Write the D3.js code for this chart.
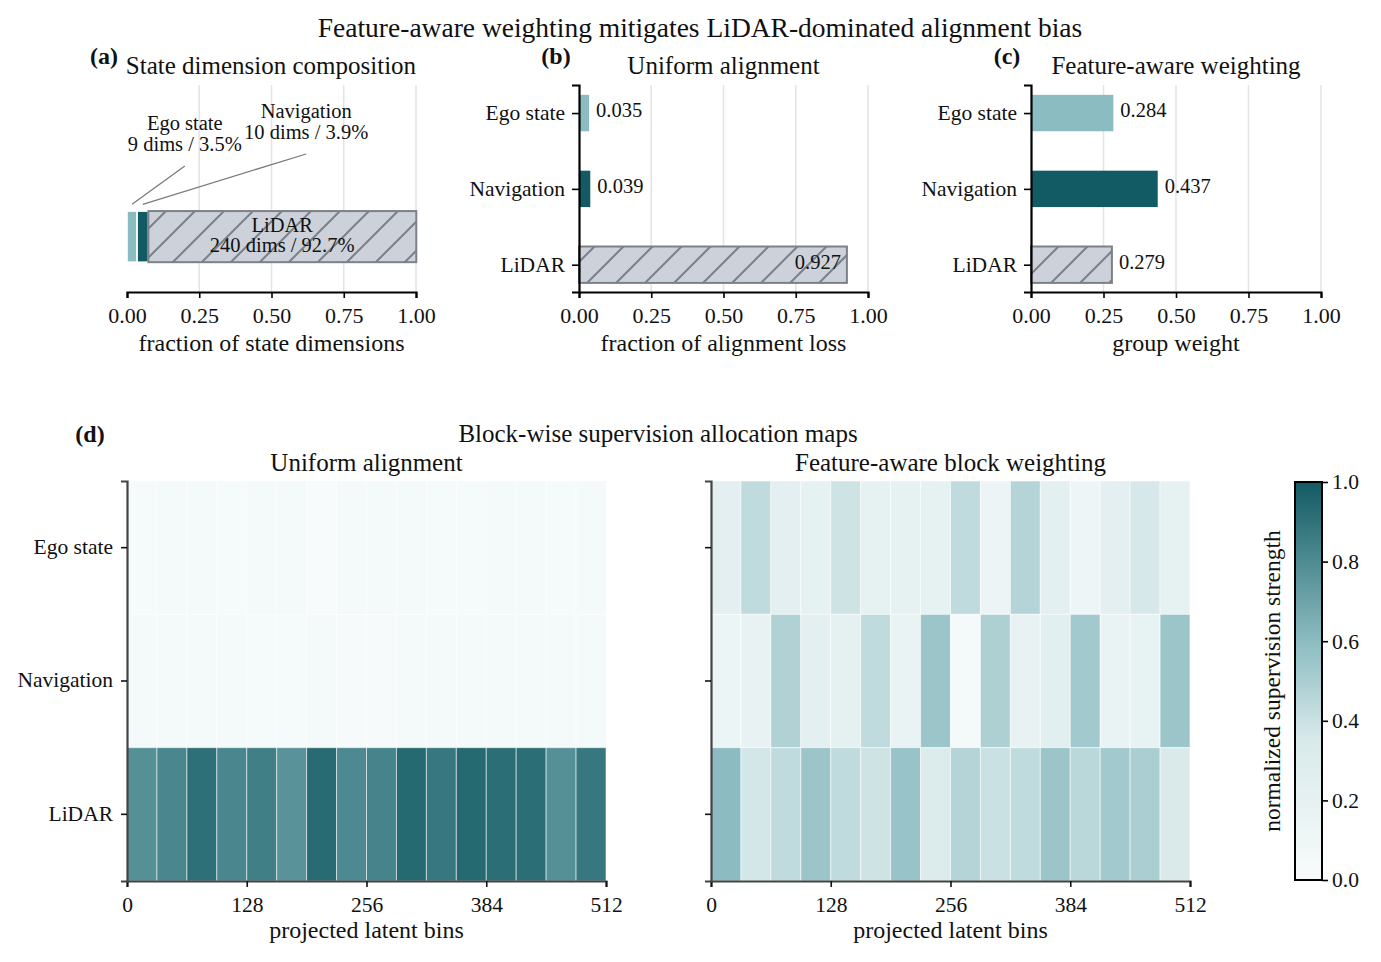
<!DOCTYPE html>
<html>
<head>
<meta charset="utf-8">
<script src="https://cdn.jsdelivr.net/npm/d3@7"></script>
<style>
  body { margin: 0; background: #fff; }
  text { font-family: "Liberation Serif", "Times New Roman", serif; fill: #111; }
</style>
</head>
<body>
<div id="chart"></div>
<script>
const width = 1381,
  height = 962;

// DATA
const groups = ["Ego state", "Navigation", "LiDAR"];
const groupDims = [9, 10, 240];
const dimShare = [0.035, 0.039, 0.927];
const uniformLoss = [0.035, 0.039, 0.927];
const featureWeight = [0.284, 0.437, 0.279];
const barTicks = [0, 0.25, 0.5, 0.75, 1.0];
const binTicks = [0, 128, 256, 384, 512];
const cbarTicks = [0, 0.2, 0.4, 0.6, 0.8, 1.0];
const nBlocks = 16;

// block-wise maps, rows = groups, 16 blocks of 32 bins
const uniformMap = [
  [0.03, 0.04, 0.04, 0.03, 0.04, 0.05, 0.01, 0.05, 0.04, 0.04, 0.03, 0.03, 0.04, 0.04, 0.03, 0.04],
  [0.05, 0.05, 0.04, 0.05, 0.03, 0.03, 0.05, 0.02, 0.02, 0.04, 0.04, 0.04, 0.04, 0.04, 0.04, 0.04],
  [0.78, 0.82, 0.91, 0.82, 0.85, 0.77, 0.93, 0.81, 0.83, 0.94, 0.88, 0.94, 0.92, 0.92, 0.78, 0.88]
];
const featureMap = [
  [0.24, 0.43, 0.24, 0.2, 0.39, 0.2, 0.2, 0.2, 0.43, 0.14, 0.47, 0.24, 0.12, 0.24, 0.36, 0.2],
  [0.13, 0.18, 0.48, 0.24, 0.22, 0.43, 0.17, 0.55, 0.05, 0.49, 0.18, 0.25, 0.53, 0.17, 0.19, 0.55],
  [0.6, 0.37, 0.43, 0.55, 0.43, 0.39, 0.56, 0.32, 0.47, 0.4, 0.43, 0.55, 0.45, 0.53, 0.5, 0.34]
];

const groupFill = ["#8bbcc1", "#125a64", "url(#hatch)"];
const groupStroke = ["#ffffff", "#ffffff", "#7c8189"];

const color = d3.scaleLinear()
  .domain([0, 0.35, 0.6, 1])
  .range(["#f8fbfb", "#d9eaeb", "#8cbcc1", "#135a63"])
  .clamp(true);

const svg = d3.select("#chart")
  .append("svg")
  .attr("width", width)
  .attr("height", height);

const defs = svg.append("defs");
const hatch = defs.append("pattern")
  .attr("id", "hatch")
  .attr("patternUnits", "userSpaceOnUse")
  .attr("width", 29)
  .attr("height", 29);
hatch.append("rect").attr("width", 29).attr("height", 29).attr("fill", "#cdd2da");
hatch.append("path")
  .attr("d", "M-2,31 L31,-2 M-10,10 L10,-10 M19,39 L39,19")
  .attr("stroke", "#7c8189")
  .attr("stroke-width", 2);

// TITLE
svg.append("text")
  .attr("x", 700)
  .attr("y", 37)
  .attr("text-anchor", "middle")
  .attr("font-size", 27.5)
  .text("Feature-aware weighting mitigates LiDAR-dominated alignment bias");

function panelLabel(x, y, t) {
  svg.append("text")
    .attr("x", x)
    .attr("y", y)
    .attr("text-anchor", "middle")
    .attr("font-size", 24)
    .attr("font-weight", "bold")
    .attr("fill", "#333")
    .text(t);
}

function xAxisBars(g, xScale, y, label) {
  const ax = g.append("g")
    .attr("transform", `translate(0,${y})`)
    .call(d3.axisBottom(xScale).tickValues(barTicks).tickFormat(d3.format(".2f")).tickSizeOuter(0).tickSize(6));
  ax.select(".domain").attr("stroke", "#000").attr("stroke-width", 2.2);
  ax.selectAll(".tick line").attr("stroke", "#000").attr("stroke-width", 1.6);
  ax.selectAll(".tick text")
    .attr("font-size", 22)
    .attr("font-family", "Liberation Serif")
    .attr("fill", "#111")
    .attr("dy", "1.0em");
  g.append("text")
    .attr("x", (xScale.range()[0] + xScale.range()[1]) / 2)
    .attr("y", y + 59)
    .attr("text-anchor", "middle")
    .attr("font-size", 24)
    .text(label);
}

function grid(g, xScale, top, bottom) {
  g.selectAll(".grid")
    .data(barTicks.slice(1))
    .join("line")
    .attr("class", "grid")
    .attr("x1", d => xScale(d))
    .attr("x2", d => xScale(d))
    .attr("y1", top)
    .attr("y2", bottom)
    .attr("stroke", "#e3e3e8")
    .attr("stroke-width", 1.5);
}

// PANEL A
(function() {
  const g = svg.append("g");
  const xScale = d3.scaleLinear().domain([0, 1]).range([127, 416]);
  const yScale = d3.scaleLinear().domain([-1.78, 0.65]).range([85, 292]);
  grid(g, xScale, 85, 292);

  let start = 0;
  const segs = dimShare.map((v, i) => {
    const s = { i, x0: start, x1: start + v, v };
    start += v;
    return s;
  });
  g.selectAll(".seg")
    .data(segs)
    .join("rect")
    .attr("class", "seg")
    .attr("x", d => xScale(d.x0))
    .attr("width", d => xScale(d.x1) - xScale(d.x0))
    .attr("y", yScale(-0.3))
    .attr("height", yScale(0.3) - yScale(-0.3))
    .attr("fill", d => groupFill[d.i])
    .attr("stroke", d => groupStroke[d.i])
    .attr("stroke-width", d => d.i === 2 ? 2 : 1.6);

  // LiDAR inside label
  const lid = segs[2];
  const lx = xScale((lid.x0 + 1) / 2);
  g.append("text").attr("x", lx).attr("y", yScale(-0.06)).attr("text-anchor", "middle")
    .attr("font-size", 20.5).attr("fill", "#333").text(groups[2]);
  g.append("text").attr("x", lx).attr("y", yScale(0.18)).attr("text-anchor", "middle")
    .attr("font-size", 20.5).attr("fill", "#333")
    .text(`${groupDims[2]} dims / ${(dimShare[2] * 100).toFixed(1)}%`);

  // callouts for small segments
  const callouts = [
    { i: 0, tx: 0.2, ty: -1.25, px: (segs[0].x0 + segs[0].x1) / 2, lineY: -0.83 },
    { i: 1, tx: 0.62, ty: -1.39, px: (segs[1].x0 + segs[1].x1) / 2, lineY: -0.97 }
  ];
  callouts.forEach(c => {
    g.append("line")
      .attr("x1", xScale(c.tx)).attr("y1", yScale(c.lineY))
      .attr("x2", xScale(c.px)).attr("y2", yScale(-0.38))
      .attr("stroke", "#777b82").attr("stroke-width", 1.3);
    g.append("text").attr("x", xScale(c.tx)).attr("y", yScale(c.ty)).attr("text-anchor", "middle")
      .attr("font-size", 20.5).attr("fill", "#333").text(groups[c.i]);
    g.append("text").attr("x", xScale(c.tx)).attr("y", yScale(c.ty + 0.245)).attr("text-anchor", "middle")
      .attr("font-size", 20.5).attr("fill", "#333")
      .text(`${groupDims[c.i]} dims / ${(dimShare[c.i] * 100).toFixed(1)}%`);
  });

  xAxisBars(g, xScale, 292, "fraction of state dimensions");
  svg.append("text").attr("x", 271).attr("y", 74).attr("text-anchor", "middle")
    .attr("font-size", 25).text("State dimension composition");
  panelLabel(104, 64, "(a)");
})();

// PANELS B and C
function barPanel(x0, x1, values, title, xlabel, labelX, tag) {
  const g = svg.append("g");
  const xScale = d3.scaleLinear().domain([0, 1]).range([x0, x1]);
  const yScale = d3.scaleLinear().domain([-0.37, 2.36]).range([85, 292]);
  grid(g, xScale, 85, 292);

  g.selectAll(".bar")
    .data(values)
    .join("rect")
    .attr("class", "bar")
    .attr("x", xScale(0))
    .attr("y", (d, i) => yScale(i - 0.24))
    .attr("width", d => xScale(d) - xScale(0))
    .attr("height", yScale(0.24) - yScale(-0.24))
    .attr("fill", (d, i) => groupFill[i])
    .attr("stroke", (d, i) => i === 2 ? groupStroke[2] : "none")
    .attr("stroke-width", 2);

  g.selectAll(".val")
    .data(values)
    .join("text")
    .attr("class", "val")
    .attr("x", d => d > 0.8 ? xScale(d) - 6 : xScale(d) + 7)
    .attr("y", (d, i) => yScale(i) + 4)
    .attr("text-anchor", d => d > 0.8 ? "end" : "start")
    .attr("font-size", 20.5)
    .text(d => d.toFixed(3));

  xAxisBars(g, xScale, 292, xlabel);

  const ay = g.append("g")
    .attr("transform", `translate(${x0},0)`)
    .call(d3.axisLeft(yScale).tickValues([0, 1, 2]).tickFormat(i => groups[i]).tickSizeOuter(0).tickSize(7));
  ay.select(".domain").attr("stroke", "#000").attr("stroke-width", 2.2);
  ay.selectAll(".tick line").attr("stroke", "#000").attr("stroke-width", 1.6);
  ay.selectAll(".tick text")
    .attr("font-size", 21.5)
    .attr("font-family", "Liberation Serif")
    .attr("fill", "#111")
    .attr("x", -14)
    .attr("dy", "0.3em");

  svg.append("text").attr("x", (x0 + x1) / 2).attr("y", 74).attr("text-anchor", "middle")
    .attr("font-size", 25).text(title);
  panelLabel(labelX, 64, tag);
}

barPanel(579, 868, uniformLoss, "Uniform alignment", "fraction of alignment loss", 556, "(b)");
barPanel(1031, 1321, featureWeight, "Feature-aware weighting", "group weight", 1007, "(c)");

// PANEL D
panelLabel(90, 442, "(d)");
svg.append("text").attr("x", 658).attr("y", 442).attr("text-anchor", "middle")
  .attr("font-size", 25).attr("fill", "#333").text("Block-wise supervision allocation maps");

function heatmap(x0, x1, matrix, title, showLabels) {
  const g = svg.append("g");
  const xScale = d3.scaleLinear().domain([0, 512]).range([x0, x1]);
  const yScale = d3.scaleBand().domain(groups).range([481, 881]);
  const blk = 512 / nBlocks;

  const cells = [];
  matrix.forEach((row, r) => row.forEach((v, c) => cells.push({ r, c, v })));

  g.selectAll(".cell")
    .data(cells)
    .join("rect")
    .attr("class", "cell")
    .attr("x", d => xScale(d.c * blk))
    .attr("y", d => yScale(groups[d.r]))
    .attr("width", xScale(blk) - xScale(0))
    .attr("height", yScale.bandwidth())
    .attr("fill", d => color(d.v))
    .attr("stroke", "rgba(255,255,255,0.55)")
    .attr("stroke-width", 1);

  const ax = g.append("g")
    .attr("transform", `translate(0,881)`)
    .call(d3.axisBottom(xScale).tickValues(binTicks).tickSizeOuter(0).tickSize(6));
  ax.select(".domain").attr("stroke", "#444").attr("stroke-width", 2.2);
  ax.selectAll(".tick line").attr("stroke", "#111").attr("stroke-width", 1.6);
  ax.selectAll(".tick text")
    .attr("font-size", 21.5)
    .attr("font-family", "Liberation Serif")
    .attr("fill", "#111")
    .attr("dy", "1.0em");
  g.append("text").attr("x", (x0 + x1) / 2).attr("y", 938).attr("text-anchor", "middle")
    .attr("font-size", 24).text("projected latent bins");

  const ay = g.append("g")
    .attr("transform", `translate(${x0},0)`)
    .call(d3.axisLeft(yScale).tickSizeOuter(0).tickSize(6));
  ay.select(".domain").attr("stroke", "#444").attr("stroke-width", 2.2);
  ay.selectAll(".tick line").attr("stroke", "#111").attr("stroke-width", 1.6);
  ay.selectAll(".tick text")
    .attr("font-size", 21.5)
    .attr("font-family", "Liberation Serif")
    .attr("fill", "#111")
    .attr("x", -14)
    .attr("dy", "0.3em")
    .style("display", showLabels ? null : "none");

  svg.append("text").attr("x", (x0 + x1) / 2).attr("y", 471).attr("text-anchor", "middle")
    .attr("font-size", 25).text(title);
}

heatmap(127, 606, uniformMap, "Uniform alignment", true);
heatmap(711, 1190, featureMap, "Feature-aware block weighting", false);

// COLORBAR
(function() {
  const cx0 = 1295, cx1 = 1322, cy0 = 482, cy1 = 880;
  const cScale = d3.scaleLinear().domain([0, 1]).range([cy1, cy0]);
  const grad = defs.append("linearGradient")
    .attr("id", "cbar")
    .attr("x1", 0).attr("y1", 1).attr("x2", 0).attr("y2", 0);
  d3.range(0, 1.0001, 0.05).forEach(t => {
    grad.append("stop").attr("offset", t).attr("stop-color", color(t));
  });
  svg.append("rect")
    .attr("x", cx0).attr("y", cy0)
    .attr("width", cx1 - cx0).attr("height", cy1 - cy0)
    .attr("fill", "url(#cbar)")
    .attr("stroke", "#000").attr("stroke-width", 2);
  const ax = svg.append("g")
    .attr("transform", `translate(${cx1},0)`)
    .call(d3.axisRight(cScale).tickValues(cbarTicks).tickFormat(d3.format(".1f")).tickSizeOuter(0).tickSize(6));
  ax.select(".domain").remove();
  ax.selectAll(".tick line").attr("stroke", "#000").attr("stroke-width", 1.6);
  ax.selectAll(".tick text")
    .attr("font-size", 21.5)
    .attr("font-family", "Liberation Serif")
    .attr("fill", "#111")
    .attr("x", 10)
    .attr("dy", "0.32em");
  svg.append("text")
    .attr("transform", `translate(1280,${(cy0 + cy1) / 2}) rotate(-90)`)
    .attr("text-anchor", "middle")
    .attr("font-size", 23.5)
    .text("normalized supervision strength");
})();
</script>
</body>
</html>
